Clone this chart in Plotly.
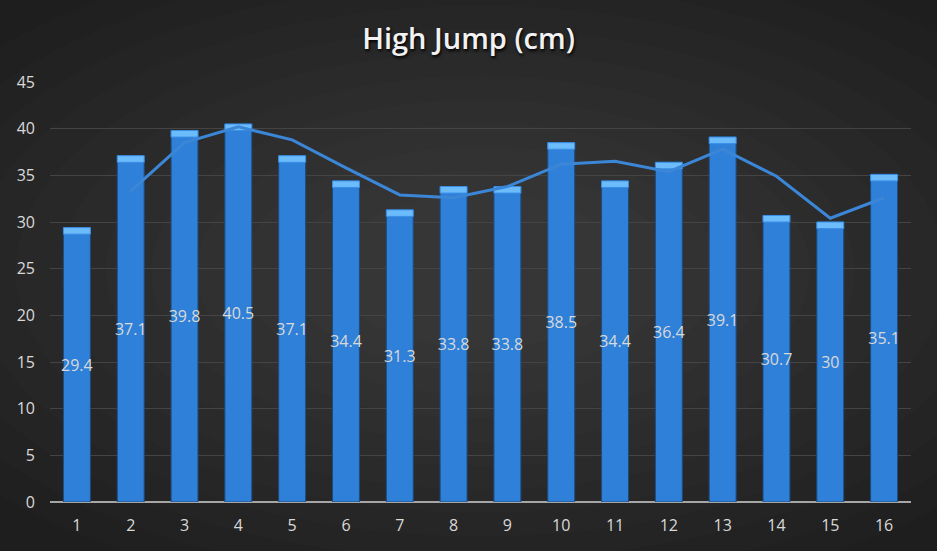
import plotly.graph_objects as go

attempts = [str(i) for i in range(1, 17)]
heights = [29.4, 37.1, 39.8, 40.5, 37.1, 34.4, 31.3, 33.8, 33.8, 38.5, 34.4, 36.4, 39.1, 30.7, 30, 35.1]
# trend line (starts at the 2nd attempt)
trend_x = attempts[1:]
trend = [33.3, 38.5, 40.2, 38.8, 35.8, 32.9, 32.6, 33.8, 36.2, 36.5, 35.4, 37.8, 34.9, 30.4, 32.6]
y_ticks = [0, 5, 10, 15, 20, 25, 30, 35, 40, 45]

cap = 0.7

fig = go.Figure()

# bar bodies
fig.add_trace(
    go.Bar(
        x=attempts,
        y=heights,
        marker=dict(color="#2f80d8", line=dict(color="#1d4c80", width=1)),
        text=[str(v) for v in heights],
        textposition="inside",
        insidetextanchor="middle",
        textfont=dict(size=16, color="#d9d9d9", family="Open Sans"),
        textangle=0,
        showlegend=False,
        hoverinfo="x+y",
    )
)
# lighter bevel cap on top of each bar
fig.add_trace(
    go.Bar(
        x=attempts,
        y=[cap] * len(heights),
        base=[v - cap for v in heights],
        marker=dict(color="#6cbcfb", line=dict(color="#3a8ee6", width=1)),
        showlegend=False,
        hoverinfo="skip",
    )
)
fig.add_trace(
    go.Scatter(
        x=trend_x,
        y=trend,
        mode="lines",
        line=dict(color="#3b86d6", width=3),
        showlegend=False,
    )
)

# fake radial gradient behind everything
shapes = []
for i in range(12):
    r = 1.0 - i * 0.07
    shapes.append(
        dict(
            type="circle",
            xref="paper",
            yref="paper",
            x0=0.5 - 0.75 * r,
            x1=0.5 + 0.75 * r,
            y0=0.55 - 0.8 * r,
            y1=0.55 + 0.8 * r,
            fillcolor="rgba(255,255,255,0.012)",
            line_width=0,
            layer="below",
        )
    )

fig.update_layout(
    width=937,
    height=551,
    paper_bgcolor="#1e1e1e",
    plot_bgcolor="rgba(0,0,0,0)",
    barmode="overlay",
    bargap=0.5,
    margin=dict(l=50, r=26, t=82, b=49),
    font=dict(family="Open Sans", color="#d9d9d9"),
    uniformtext=dict(minsize=16, mode="show"),
    title=dict(
        text="High Jump (cm)",
        x=0.5,
        xanchor="center",
        y=0.93,
        yanchor="middle",
        font=dict(size=29, color="#f2f2f2", family="Open Sans", weight=600,
                  shadow="1px 2px 3px #000000"),
    ),
    xaxis=dict(
        showgrid=False,
        tickfont=dict(size=16, color="#d9d9d9"),
        ticks="",
        showline=False,
        ticklabelstandoff=12,
    ),
    yaxis=dict(
        range=[0, 45],
        tickvals=y_ticks,
        tickfont=dict(size=16, color="#d9d9d9"),
        gridcolor="#444444",
        gridwidth=1,
        zeroline=True,
        zerolinecolor="#a6a6a6",
        zerolinewidth=2,
        ticklabelstandoff=14,
    ),
    shapes=shapes,
)

fig.write_html(
    "out.html",
    config={"displayModeBar": False},
    post_script="document.body.style.margin='0';document.body.style.overflow='hidden';",
)
